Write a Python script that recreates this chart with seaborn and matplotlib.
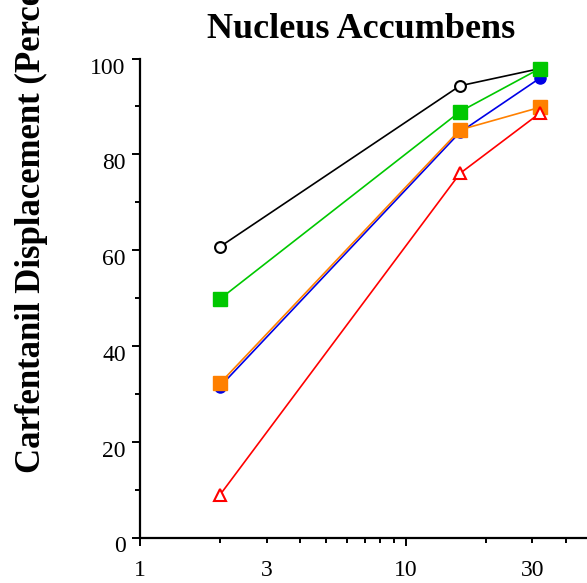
import matplotlib
matplotlib.use("Agg")
import matplotlib.pyplot as plt
import matplotlib.transforms as mtransforms
from matplotlib.ticker import FixedLocator, FuncFormatter, NullFormatter
import seaborn as sns
import pandas as pd

# Dose (x, log scale) and percent displacement for each treatment series
doses = [2, 16, 32]
open_circle_black = [60.7, 94.3, 97.9]
filled_circle_blue = [31.5, 84.6, 95.9]
filled_square_green = [49.8, 88.9, 97.9]
filled_square_orange = [32.2, 85.1, 89.8]
open_triangle_red = [8.9, 76.0, 88.6]

major_x_ticks = [1, 10]
minor_x_ticks = [2, 3, 4, 5, 6, 7, 8, 9, 20, 30, 40]
labelled_minor_x = {3: "3", 30: "30"}
y_major = [0, 20, 40, 60, 80, 100]
y_minor = [10, 30, 50, 70, 90]

sns.set_style("ticks")
plt.rcParams["font.family"] = ["Liberation Serif", "DejaVu Serif"]
plt.rcParams["text.color"] = "black"

fig = plt.figure(figsize=(5.87, 5.83), dpi=100)
W, H = 587, 583
ax = fig.add_axes([140 / W, (H - 537.5) / H, (W - 140) / W, (537.5 - 58.5) / H])

series = [
    (open_circle_black, "black", "o", "white", 7.8, 1.5),
    (filled_circle_blue, "#0000e6", "o", "#0000e6", 8.0, 1.0),
    (filled_square_green, "#00c800", "s", "#00c800", 9.4, 1.0),
    (filled_square_orange, "#ff8000", "s", "#ff8000", 9.4, 1.0),
    (open_triangle_red, "#ff0000", "^", "white", 8.0, 1.5),
]
for vals, col, mk, face, ms, mew in series:
    df = pd.DataFrame({"dose": doses, "pct": vals})
    sns.lineplot(data=df, x="dose", y="pct", ax=ax, color=col, linewidth=1.2,
                 marker=mk, markersize=ms, markerfacecolor=face,
                 markeredgecolor=col, markeredgewidth=mew, legend=False)

ax.set_xscale("log")
ax.set_xlim(1, 10 ** ((W - 140) / 265.7))
ax.set_ylim(0, 100)

ax.xaxis.set_major_locator(FixedLocator(major_x_ticks))
ax.xaxis.set_major_formatter(FuncFormatter(lambda v, p: f"{v:g}"))
ax.xaxis.set_minor_locator(FixedLocator(minor_x_ticks))
ax.xaxis.set_minor_formatter(FuncFormatter(lambda v, p: labelled_minor_x.get(int(round(v)), "")))
ax.yaxis.set_major_locator(FixedLocator(y_major))
ax.yaxis.set_minor_locator(FixedLocator(y_minor))
ax.yaxis.set_minor_formatter(NullFormatter())

for s in ["top", "right"]:
    ax.spines[s].set_visible(False)
for s in ["left", "bottom"]:
    ax.spines[s].set_linewidth(1.6)
    ax.spines[s].set_color("black")

ax.tick_params(axis="both", which="major", length=5.8, width=1.4, labelsize=17,
               colors="black", labelcolor="black")
ax.tick_params(axis="both", which="minor", length=3.4, width=1.4, labelsize=17,
               colors="black", labelcolor="black")
ax.tick_params(axis="x", which="major", pad=10.5)
ax.tick_params(axis="x", which="minor", pad=10.5 + 2.4)
ax.tick_params(axis="y", which="major", pad=4.5)

# y tick labels sit a little below their ticks
shift = mtransforms.ScaledTranslation(0, -7 / 100, fig.dpi_scale_trans)
for lab in ax.get_yticklabels():
    lab.set_transform(lab.get_transform() + shift)

ax.set_xlabel("")
ax.set_ylabel("")
ax.grid(False)

fig.text(361 / W, (H - 38) / H, "Nucleus Accumbens", ha="center", va="baseline",
         fontsize=26, fontweight="bold", color="black")
fig.text(31 / W, (H - 473) / H, "Carfentanil Displacement (Percent)", rotation=90,
         ha="center", va="bottom", fontsize=25, fontweight="bold", color="black")

fig.savefig("out.png", dpi=100)
